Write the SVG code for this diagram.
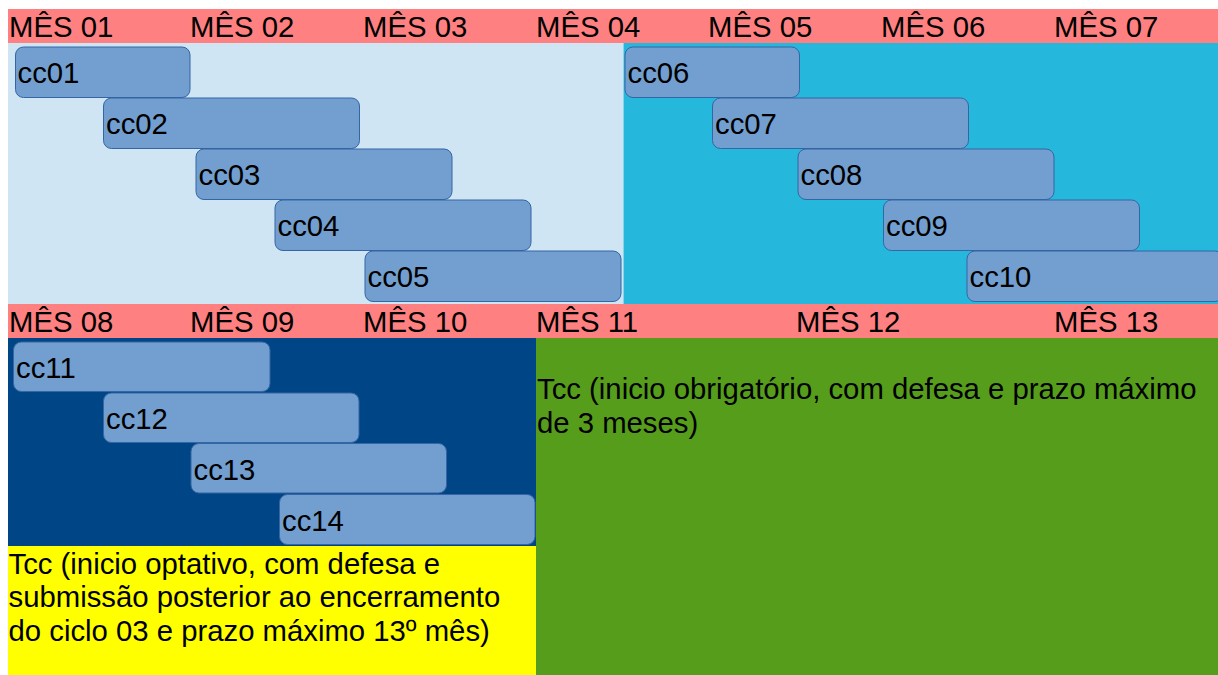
<svg xmlns="http://www.w3.org/2000/svg" width="1218" height="675" viewBox="0 0 1218 675">
<style>
text{font-family:"Liberation Sans",Arial,sans-serif;font-size:29.3px;fill:#000}
.band{fill:#ff8080}
.box{fill:#729fcf;stroke:#3465a4;stroke-width:1}
</style>
<rect width="1218" height="675" fill="#ffffff"/>
<g id="panels">
<rect class="band" x="8" y="9" width="1210" height="34"/>
<rect x="8" y="43" width="615.5" height="261" fill="#cfe5f3"/>
<rect x="623.5" y="43" width="594.5" height="261" fill="#26b7dc"/>
<rect class="band" x="8" y="304" width="1210" height="34"/>
<rect x="8" y="338" width="528" height="208" fill="#004586"/>
<rect x="8" y="546" width="528" height="129" fill="#ffff00"/>
<rect x="536" y="338" width="682" height="337" fill="#579d1c"/>
</g>
<g id="months">
<text x="9" y="36.7">MÊS 01</text>
<text x="190" y="36.7">MÊS 02</text>
<text x="363" y="36.7">MÊS 03</text>
<text x="536" y="36.7">MÊS 04</text>
<text x="708" y="36.7">MÊS 05</text>
<text x="881" y="36.7">MÊS 06</text>
<text x="1054" y="36.7">MÊS 07</text>
<text x="9" y="332.3">MÊS 08</text>
<text x="190" y="332.3">MÊS 09</text>
<text x="363" y="332.3">MÊS 10</text>
<text x="536" y="332.3">MÊS 11</text>
<text x="796" y="332.3">MÊS 12</text>
<text x="1054" y="332.3">MÊS 13</text>
</g>
<g id="cc01"><rect class="box" x="15.5" y="47" width="174.5" height="50.5" rx="8"/><text x="17.5" y="83.3">cc01</text></g>
<g id="cc02"><rect class="box" x="103.5" y="98" width="256" height="50.5" rx="8"/><text x="106" y="134.3">cc02</text></g>
<g id="cc03"><rect class="box" x="196" y="149" width="256" height="50.5" rx="8"/><text x="198.5" y="185.3">cc03</text></g>
<g id="cc04"><rect class="box" x="275" y="200" width="256" height="50.5" rx="8"/><text x="277.5" y="236.3">cc04</text></g>
<g id="cc05"><rect class="box" x="365" y="251" width="256" height="50.5" rx="8"/><text x="367.5" y="287.3">cc05</text></g>
<g id="cc06"><rect class="box" x="625" y="47" width="174.5" height="50.5" rx="8"/><text x="627.5" y="83.3">cc06</text></g>
<g id="cc07"><rect class="box" x="712.5" y="98" width="256" height="50.5" rx="8"/><text x="715" y="134.3">cc07</text></g>
<g id="cc08"><rect class="box" x="798" y="149" width="256" height="50.5" rx="8"/><text x="800.5" y="185.3">cc08</text></g>
<g id="cc09"><rect class="box" x="883.5" y="200" width="256" height="50.5" rx="8"/><text x="886" y="236.3">cc09</text></g>
<g id="cc10"><rect class="box" x="967" y="251" width="256" height="50.5" rx="8"/><text x="969.5" y="287.3">cc10</text></g>
<g id="cc11"><rect class="box" x="13.5" y="342" width="256.5" height="49.5" rx="8"/><text x="16" y="378.3">cc11</text></g>
<g id="cc12"><rect class="box" x="103.5" y="393" width="255.5" height="49.5" rx="8"/><text x="106" y="429.3">cc12</text></g>
<g id="cc13"><rect class="box" x="191" y="443.5" width="255.5" height="49.5" rx="8"/><text x="193.5" y="479.8">cc13</text></g>
<g id="cc14"><rect class="box" x="279.5" y="494.5" width="255.5" height="50" rx="8"/><text x="282" y="530.8">cc14</text></g>
<g id="tcc-optativo">
<text x="8.5" y="573.5">Tcc (inicio optativo, com defesa e</text>
<text x="8.5" y="607">submissão posterior ao encerramento</text>
<text x="8.5" y="640.5">do ciclo 03 e prazo máximo 13º mês)</text>
</g>
<g id="tcc-obrigatorio">
<text x="537" y="398.5">Tcc (inicio obrigatório, com defesa e prazo máximo</text>
<text x="537" y="432.5">de 3 meses)</text>
</g>
<g id="connectors"/>
</svg>
